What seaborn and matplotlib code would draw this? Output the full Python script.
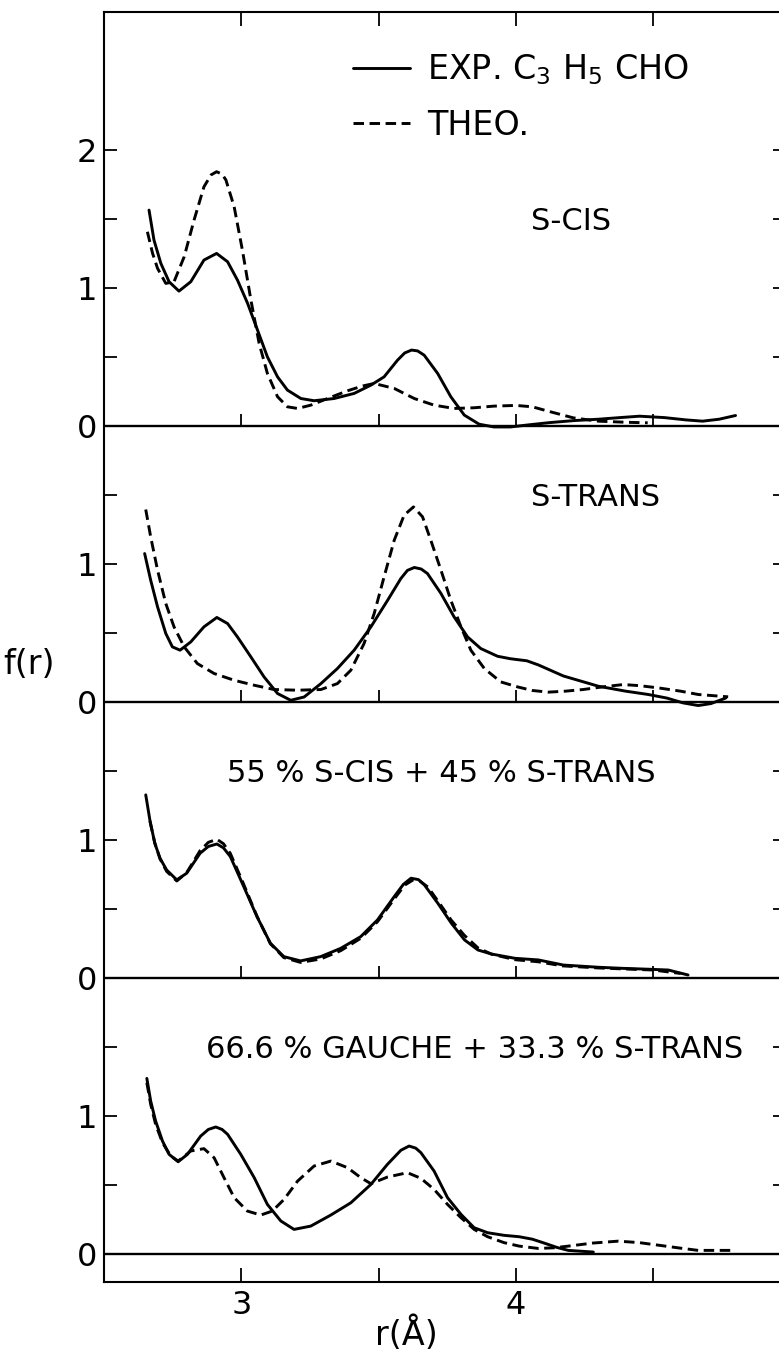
import numpy as np
import pandas as pd
import matplotlib
matplotlib.use("Agg")
import matplotlib.pyplot as plt
import seaborn as sns

# ---- radial distribution curves f(r), one pair per conformer model ----
cis_exp_r = [2.664, 2.682, 2.707, 2.737, 2.773, 2.816, 2.864, 2.910, 2.950, 2.986, 3.023, 3.059,
             3.095, 3.132, 3.168, 3.217, 3.265, 3.338, 3.411, 3.472, 3.520, 3.569, 3.595, 3.620,
             3.642, 3.666, 3.715, 3.763, 3.812, 3.866, 3.92, 3.98, 4.05, 4.12, 4.21, 4.30, 4.38,
             4.45, 4.54, 4.62, 4.68, 4.74, 4.80]
cis_exp_f = [1.565, 1.348, 1.179, 1.046, 0.978, 1.046, 1.203, 1.251, 1.191, 1.058, 0.889, 0.696,
             0.502, 0.357, 0.261, 0.200, 0.184, 0.200, 0.237, 0.297, 0.357, 0.478, 0.530, 0.551,
             0.545, 0.514, 0.382, 0.213, 0.080, 0.014, -0.006, -0.006, 0.010, 0.025, 0.040, 0.050,
             0.062, 0.072, 0.062, 0.045, 0.036, 0.050, 0.077]
cis_theo_r = [2.658, 2.677, 2.695, 2.725, 2.755, 2.792, 2.828, 2.864, 2.890, 2.910, 2.930, 2.944,
              2.974, 3.004, 3.035, 3.065, 3.095, 3.132, 3.168, 3.205, 3.253, 3.314, 3.387, 3.440,
              3.484, 3.557, 3.630, 3.702, 3.775, 3.848, 3.92, 4.00, 4.06, 4.118, 4.209, 4.30,
              4.40, 4.48]
cis_theo_f = [1.408, 1.251, 1.143, 1.034, 1.046, 1.227, 1.493, 1.734, 1.820, 1.843, 1.825, 1.783,
              1.589, 1.275, 0.913, 0.599, 0.382, 0.213, 0.140, 0.128, 0.152, 0.200, 0.256, 0.290,
              0.309, 0.273, 0.200, 0.152, 0.128, 0.133, 0.145, 0.150, 0.140, 0.108, 0.060, 0.036,
              0.028, 0.024]

trans_exp_r = [2.648, 2.670, 2.695, 2.725, 2.749, 2.777, 2.816, 2.864, 2.911, 2.950, 2.986, 3.035,
               3.083, 3.132, 3.180, 3.229, 3.290, 3.350, 3.411, 3.472, 3.533, 3.581, 3.605, 3.630,
               3.655, 3.678, 3.727, 3.775, 3.824, 3.872, 3.933, 3.98, 4.04, 4.082, 4.173, 4.30,
               4.40, 4.482, 4.55, 4.609, 4.664, 4.71, 4.764]
trans_exp_f = [1.077, 0.884, 0.691, 0.498, 0.401, 0.377, 0.437, 0.546, 0.614, 0.570, 0.473, 0.328,
               0.183, 0.063, 0.014, 0.038, 0.135, 0.244, 0.377, 0.546, 0.739, 0.896, 0.955, 0.976,
               0.965, 0.932, 0.788, 0.618, 0.473, 0.389, 0.333, 0.315, 0.300, 0.270, 0.190, 0.116,
               0.080, 0.056, 0.030, -0.005, -0.024, -0.010, 0.030]
trans_theo_r = [2.652, 2.670, 2.695, 2.725, 2.755, 2.792, 2.840, 2.901, 2.974, 3.047, 3.119, 3.205,
                3.290, 3.350, 3.399, 3.447, 3.484, 3.520, 3.557, 3.593, 3.627, 3.660, 3.690, 3.727,
                3.763, 3.800, 3.836, 3.885, 3.945, 4.006, 4.06, 4.118, 4.18, 4.245, 4.32, 4.391,
                4.45, 4.518, 4.60, 4.664, 4.773]
trans_theo_f = [1.396, 1.198, 0.957, 0.715, 0.546, 0.401, 0.280, 0.208, 0.159, 0.123, 0.092, 0.087,
                0.092, 0.135, 0.232, 0.425, 0.643, 0.908, 1.174, 1.355, 1.415, 1.343, 1.174, 0.957,
                0.739, 0.546, 0.377, 0.244, 0.147, 0.111, 0.085, 0.073, 0.080, 0.092, 0.112, 0.128,
                0.120, 0.104, 0.080, 0.056, 0.039]

mix_exp_r = [2.652, 2.667, 2.685, 2.704, 2.728, 2.765, 2.801, 2.850, 2.880, 2.911, 2.935, 2.960,
             3.009, 3.057, 3.106, 3.155, 3.216, 3.289, 3.362, 3.435, 3.496, 3.557, 3.590, 3.618,
             3.645, 3.667, 3.716, 3.765, 3.813, 3.862, 3.911, 3.996, 4.082, 4.173, 4.30, 4.391,
             4.48, 4.555, 4.627]
mix_exp_f = [1.329, 1.147, 0.978, 0.870, 0.785, 0.713, 0.761, 0.906, 0.955, 0.973, 0.945, 0.882,
             0.664, 0.447, 0.254, 0.157, 0.126, 0.157, 0.217, 0.302, 0.423, 0.592, 0.680, 0.725,
             0.715, 0.676, 0.543, 0.399, 0.278, 0.205, 0.176, 0.145, 0.133, 0.096, 0.080, 0.072,
             0.066, 0.060, 0.024]
mix_theo_r = [2.667, 2.685, 2.704, 2.728, 2.765, 2.801, 2.850, 2.880, 2.911, 2.935, 2.960, 3.009,
              3.057, 3.106, 3.155, 3.216, 3.289, 3.362, 3.435, 3.496, 3.557, 3.595, 3.625, 3.650,
              3.680, 3.716, 3.765, 3.813, 3.862, 3.911, 3.996, 4.08, 4.17, 4.30, 4.39, 4.50, 4.60]
mix_theo_f = [1.140, 0.980, 0.865, 0.775, 0.705, 0.765, 0.925, 0.985, 1.007, 0.975, 0.905, 0.680,
              0.450, 0.250, 0.150, 0.115, 0.140, 0.200, 0.290, 0.410, 0.575, 0.675, 0.712, 0.705,
              0.660, 0.560, 0.420, 0.310, 0.220, 0.175, 0.135, 0.120, 0.090, 0.075, 0.068, 0.060,
              0.035]

gauche_exp_r = [2.656, 2.670, 2.688, 2.713, 2.737, 2.770, 2.804, 2.852, 2.880, 2.907, 2.930, 2.950,
                2.998, 3.047, 3.095, 3.144, 3.192, 3.253, 3.326, 3.399, 3.472, 3.532, 3.581, 3.611,
                3.635, 3.654, 3.702, 3.751, 3.800, 3.848, 3.897, 3.957, 4.012, 4.06, 4.100, 4.15,
                4.191, 4.282]
gauche_exp_f = [1.275, 1.111, 0.966, 0.821, 0.725, 0.671, 0.725, 0.857, 0.905, 0.923, 0.905, 0.870,
                0.725, 0.556, 0.362, 0.242, 0.181, 0.205, 0.285, 0.374, 0.507, 0.652, 0.754, 0.785,
                0.770, 0.737, 0.604, 0.411, 0.290, 0.193, 0.157, 0.138, 0.128, 0.110, 0.084, 0.050,
                0.029, 0.017]
gauche_theo_r = [2.656, 2.670, 2.688, 2.713, 2.743, 2.770, 2.816, 2.864, 2.901, 2.937, 2.974, 3.022,
                 3.071, 3.113, 3.156, 3.205, 3.265, 3.326, 3.387, 3.435, 3.472, 3.532, 3.605, 3.654,
                 3.702, 3.751, 3.800, 3.848, 3.897, 3.957, 4.012, 4.082, 4.14, 4.191, 4.28, 4.373,
                 4.45, 4.518, 4.60, 4.664, 4.791]
gauche_theo_f = [1.244, 1.087, 0.942, 0.809, 0.713, 0.676, 0.749, 0.766, 0.700, 0.556, 0.411, 0.314,
                 0.285, 0.314, 0.399, 0.531, 0.640, 0.676, 0.628, 0.556, 0.512, 0.560, 0.592, 0.551,
                 0.471, 0.362, 0.266, 0.181, 0.128, 0.085, 0.060, 0.043, 0.048, 0.060, 0.082, 0.096,
                 0.085, 0.067, 0.045, 0.029, 0.029]

panel_titles = ["S-CIS", "S-TRANS", "55 % S-CIS + 45 % S-TRANS", "66.6 % GAUCHE + 33.3 % S-TRANS"]
panel_offsets = [6, 4, 2, 0]
title_x = [4.20, 4.29, 3.73, 3.85]
legend_labels = ["EXP. C$_3$ H$_5$ CHO", "THEO."]
x_ticks = [3.0, 3.5, 4.0, 4.5]
x_tick_labels = ["3", "", "4", ""]

# ---- style ----
sns.set_theme(style="white")
plt.rcParams["font.family"] = ["DejaVu Sans"]
plt.rcParams["mathtext.fontset"] = "dejavusans"
plt.rcParams["mathtext.default"] = "regular"
plt.rcParams["text.color"] = "black"
plt.rcParams["axes.labelcolor"] = "black"
plt.rcParams["axes.edgecolor"] = "black"
plt.rcParams["axes.linewidth"] = 1.5

curves = [
    (cis_exp_r, cis_exp_f, cis_theo_r, cis_theo_f),
    (trans_exp_r, trans_exp_f, trans_theo_r, trans_theo_f),
    (mix_exp_r, mix_exp_f, mix_theo_r, mix_theo_f),
    (gauche_exp_r, gauche_exp_f, gauche_theo_r, gauche_theo_f),
]

fig = plt.figure(figsize=(7.79, 13.61), dpi=100)
ax = fig.add_axes([104 / 779, 79 / 1361, 681 / 779, 1270 / 1361])

dash = (0, (3.6, 1.9))
for i, ((er, ef, tr, tf), off) in enumerate(zip(curves, panel_offsets)):
    exp_df = pd.DataFrame({"r": er, "f": np.asarray(ef) + off})
    theo_df = pd.DataFrame({"r": tr, "f": np.asarray(tf) + off})
    sns.lineplot(data=exp_df, x="r", y="f", ax=ax, color="black", lw=2.1, sort=False,
                 estimator=None, label=legend_labels[0] if i == 0 else None)
    sns.lineplot(data=theo_df, x="r", y="f", ax=ax, color="black", lw=2.1, sort=False,
                 estimator=None, linestyle=dash,
                 label=legend_labels[1] if i == 0 else None)
    # zero line of each model
    ax.axhline(off, color="black", lw=1.7, zorder=1)
    if off > 0:
        ax.vlines(x_ticks, off, off + 0.09, color="black", lw=1.3)
    ax.text(title_x[i], off + 1.42, panel_titles[i], ha="center", va="baseline", fontsize=22)

ax.set_xlim(2.5, 4.98)
ax.set_ylim(-0.2, 9.0)

# y ticks: 0, 1 (and 2 on the top model) labelled, halves unlabelled
major_pos, major_lab, minor_pos = [], [], []
for i, off in enumerate(panel_offsets):
    top = 2 if i == 0 else 1
    for k in range(top + 1):
        major_pos.append(off + k)
        major_lab.append(str(k))
    minor_pos += [off + 0.5, off + 1.5]
ax.set_yticks(major_pos, major_lab)
ax.set_yticks(minor_pos, minor=True)
ax.set_xticks(x_ticks, x_tick_labels)

ax.tick_params(axis="both", which="both", direction="in", top=True, bottom=True,
               left=True, right=True, color="black", width=1.3, length=9,
               labelsize=23, labelcolor="black")
ax.tick_params(axis="y", pad=5)
ax.tick_params(axis="x", pad=6, length=10)
for s in ax.spines.values():
    s.set_color("black")
    s.set_linewidth(1.5)

ax.set_ylabel("")
ax.set_xlabel("r(\u00c5)", fontsize=24, color="black")
ax.xaxis.set_label_coords(0.444, -0.027)
ax.text(-0.11, 4.27, "f(r)", transform=ax.get_yaxis_transform(), ha="center",
        va="center", fontsize=24, color="black")

handles, labels = ax.get_legend_handles_labels()
ax.legend(handles, labels, loc="upper left", bbox_to_anchor=(0.366, 0.968),
          frameon=False, fontsize=24, handlelength=1.7, handletextpad=0.52,
          labelspacing=0.65, borderpad=0, borderaxespad=0)

fig.savefig("out.png", dpi=100, facecolor="white")
